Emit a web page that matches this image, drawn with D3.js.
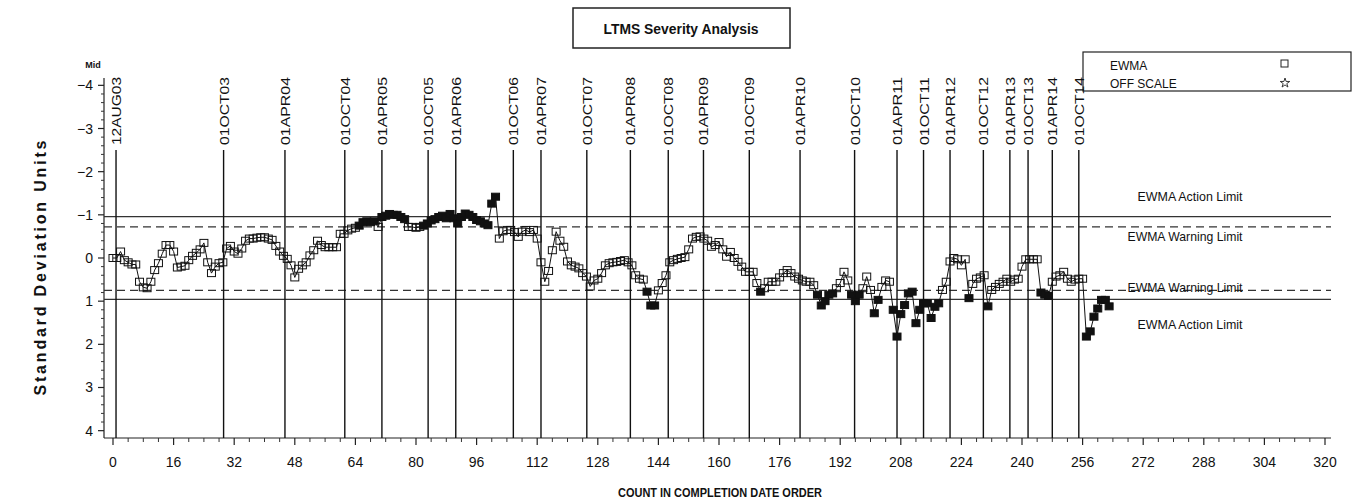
<!DOCTYPE html>
<html>
<head>
<meta charset="utf-8">
<script src="https://cdn.jsdelivr.net/npm/d3@7"></script>
<style>
  html, body { margin: 0; padding: 0; background: #fff; }
  svg { display: block; }
  text { font-family: "Liberation Sans Narrow", "Liberation Sans", Arial, sans-serif; fill: #111; }
</style>
</head>
<body>
<svg id="chart" width="1353" height="502"></svg>
<script>
// ---------- data ----------
const title = "LTMS Severity Analysis";
const xTitle = "COUNT IN COMPLETION DATE ORDER";
const yTitle = "Standard Deviation Units";
const xTicks = [0,16,32,48,64,80,96,112,128,144,160,176,192,208,224,240,256,272,288,304,320];
const yTicks = [-4,-3,-2,-1,0,1,2,3,4];

// EWMA values, one per test (count 0..263)
const ewma = [
  0.00, 0.00,-0.15, 0.05, 0.10, 0.15, 0.15, 0.55, 0.68, 0.70,
  0.55, 0.28, 0.12,-0.10,-0.30,-0.30,-0.15, 0.22, 0.20, 0.18,
  0.05,-0.05,-0.12,-0.20,-0.35, 0.10, 0.35, 0.20, 0.12, 0.10,
 -0.22,-0.28,-0.15,-0.10,-0.22,-0.40,-0.45,-0.45,-0.47,-0.48,
 -0.48,-0.45,-0.42,-0.28,-0.15,-0.05, 0.02, 0.17, 0.45, 0.25,
  0.17, 0.10,-0.06,-0.18,-0.40,-0.30,-0.25,-0.25,-0.25,-0.25,
 -0.56,-0.56,-0.64,-0.68,-0.70,-0.75,-0.83,-0.85,-0.83,-0.85,
 -0.72,-0.95,-0.98,-1.02,-1.00,-1.00,-0.95,-0.90,-0.72,-0.72,
 -0.70,-0.72,-0.75,-0.80,-0.87,-0.90,-0.95,-0.98,-0.92,-1.02,
 -0.92,-0.80,-0.95,-1.03,-1.00,-0.95,-0.88,-0.85,-0.80,-0.76,
 -1.26,-1.42,-0.45,-0.62,-0.65,-0.65,-0.60,-0.49,-0.61,-0.65,
 -0.60,-0.65,-0.45, 0.10, 0.55, 0.30,-0.18,-0.61,-0.40,-0.26,
  0.08, 0.17, 0.20, 0.24, 0.35, 0.43, 0.66, 0.52, 0.48, 0.35,
  0.17, 0.12, 0.10, 0.09, 0.07, 0.05, 0.10, 0.17, 0.40, 0.48,
  0.50, 0.78, 1.10, 1.10, 0.75, 0.58, 0.40, 0.10, 0.05, 0.02,
  0.00,-0.02,-0.20,-0.45,-0.49,-0.50,-0.45,-0.40,-0.26,-0.30,
 -0.37,-0.20,-0.03,-0.14, 0.00, 0.09, 0.20, 0.32, 0.32, 0.32,
  0.58, 0.78, 0.70, 0.55, 0.55, 0.55, 0.45, 0.35, 0.28, 0.35,
  0.43, 0.48, 0.52, 0.55, 0.55, 0.63, 0.85, 1.10, 1.00, 0.85,
  0.82, 0.70, 0.58, 0.32, 0.52, 0.85, 1.00, 0.85, 0.70, 0.43,
  0.74, 1.28, 0.97, 0.67, 0.52, 0.55, 1.20, 1.82, 1.30, 1.09,
  0.82, 0.78, 1.51, 1.20, 1.05, 1.05, 1.39, 1.13, 1.05, 0.74,
  0.55, 0.08, 0.00, 0.03, 0.17, 0.03, 0.93, 0.60, 0.48, 0.45,
  0.40, 1.12, 0.74, 0.67, 0.60, 0.55, 0.48, 0.55, 0.50, 0.48,
  0.20, 0.03, 0.03, 0.03, 0.03, 0.80, 0.85, 0.88, 0.55, 0.43,
  0.40, 0.32, 0.48, 0.55, 0.50, 0.48, 0.48, 1.82, 1.70, 1.36,
  1.17, 0.97, 0.97, 1.12
];

// date reference lines (count position)
const dateLabels = ["12AUG03","01OCT03","01APR04","01OCT04","01APR05","01OCT05","01APR06","01OCT06",
  "01APR07","01OCT07","01APR08","01OCT08","01APR09","01OCT09","01APR10","01OCT10","01APR11",
  "01OCT11","01APR12","01OCT12","01APR13","01OCT13","01APR14","01OCT14"];
const datePos = [0.8,29.2,45.4,61.2,71.0,83.2,90.5,105.7,113.0,125.1,136.6,146.6,155.9,168.0,
  181.4,195.8,207.0,214.0,221.0,229.8,236.8,241.6,248.0,255.0];

// limits
const limitNames = ["EWMA Action Limit","EWMA Warning Limit","EWMA Warning Limit","EWMA Action Limit"];
const limitValues = [-0.96,-0.72,0.75,0.96];
const limitDashed = [false,true,true,false];

const legendNames = ["EWMA","OFF SCALE"];

// ---------- drawing ----------
const svg = d3.select("#chart");
const x = d3.scaleLinear().domain([0,320]).range([113,1325]);
const y = d3.scaleLinear().domain([-4.17,4.17]).range([78,438]);
const axisLeft = 104, axisRight = 1331, axisTop = 78, axisBottom = 438;

// title box
svg.append("rect").attr("x",573).attr("y",8).attr("width",217).attr("height",40)
  .attr("fill","none").attr("stroke","#222").attr("stroke-width",1.5);
svg.append("text").attr("x",681).attr("y",34).attr("text-anchor","middle")
  .attr("font-size",14).attr("font-weight","bold").attr("textLength",155).attr("lengthAdjust","spacingAndGlyphs")
  .text(title);

// legend box
svg.append("rect").attr("x",1083).attr("y",52).attr("width",268).attr("height",39)
  .attr("fill","none").attr("stroke","#222").attr("stroke-width",1.2);
svg.append("text").attr("x",1110).attr("y",70).attr("font-size",12).text(legendNames[0]);
svg.append("text").attr("x",1110).attr("y",88).attr("font-size",12).text(legendNames[1]);
svg.append("rect").attr("x",1281).attr("y",60).attr("width",7).attr("height",7)
  .attr("fill","none").attr("stroke","#222").attr("stroke-width",1);
svg.append("path").attr("d",d3.symbol(d3.symbolStar,28)()).attr("transform","translate(1285,83)")
  .attr("fill","none").attr("stroke","#222").attr("stroke-width",0.9);

// axes lines
svg.append("line").attr("x1",axisLeft).attr("x2",axisLeft).attr("y1",axisTop).attr("y2",axisBottom)
  .attr("stroke","#222").attr("stroke-width",1.2);
svg.append("line").attr("x1",axisLeft).attr("x2",axisRight).attr("y1",axisBottom).attr("y2",axisBottom)
  .attr("stroke","#222").attr("stroke-width",1.2);

// y ticks
const yMinor = d3.range(-4,4.001,0.2).filter(v => Math.abs(v - Math.round(v)) > 0.01);
svg.append("g").selectAll("line.ymin").data(yMinor).join("line")
  .attr("x1",axisLeft-3).attr("x2",axisLeft).attr("y1",d=>y(d)).attr("y2",d=>y(d))
  .attr("stroke","#333").attr("stroke-width",1);
svg.append("g").selectAll("line.ymaj").data(yTicks).join("line")
  .attr("x1",axisLeft-6).attr("x2",axisLeft).attr("y1",d=>y(d)).attr("y2",d=>y(d))
  .attr("stroke","#222").attr("stroke-width",1.2);
svg.append("g").selectAll("text").data(yTicks).join("text")
  .attr("x",93).attr("y",d=>y(d)+5).attr("text-anchor","end").attr("font-size",14)
  .text(d => d < 0 ? "\u2212" + Math.abs(d) : d);
svg.append("text").attr("x",93).attr("y",68).attr("text-anchor","middle").attr("font-size",9)
  .attr("font-weight","bold").text("Mid");

// x ticks
const xMinor = d3.range(0,321,4).filter(v => v % 16 !== 0);
svg.append("g").selectAll("line").data(xMinor).join("line")
  .attr("x1",d=>x(d)).attr("x2",d=>x(d)).attr("y1",axisBottom).attr("y2",axisBottom+4)
  .attr("stroke","#333").attr("stroke-width",1);
svg.append("g").selectAll("line").data(xTicks).join("line")
  .attr("x1",d=>x(d)).attr("x2",d=>x(d)).attr("y1",axisBottom).attr("y2",axisBottom+7)
  .attr("stroke","#222").attr("stroke-width",1.2);
svg.append("g").selectAll("text").data(xTicks).join("text")
  .attr("x",d=>x(d)).attr("y",467).attr("text-anchor","middle").attr("font-size",14)
  .text(d=>d);
svg.append("text").attr("x",720).attr("y",497).attr("text-anchor","middle").attr("font-size",12)
  .attr("font-weight","bold").attr("textLength",204).attr("lengthAdjust","spacingAndGlyphs").text(xTitle);

// y title
svg.append("text").attr("transform","translate(46,268) rotate(-90)").attr("text-anchor","middle")
  .attr("font-size",16).attr("font-weight","bold").attr("textLength",255).attr("lengthAdjust","spacing")
  .text(yTitle);

// limit lines
svg.append("g").selectAll("line").data(limitValues).join("line")
  .attr("x1",axisLeft).attr("x2",axisRight).attr("y1",d=>y(d)).attr("y2",d=>y(d))
  .attr("stroke","#333").attr("stroke-width",1.3)
  .attr("stroke-dasharray",(d,i)=>limitDashed[i] ? "8,5" : null);
const limitLabelY = [201, 241, 292, 329];
const limitLabelX = [1190, 1185, 1185, 1190];
svg.append("g").selectAll("text").data(limitNames).join("text")
  .attr("x",(d,i)=>limitLabelX[i]).attr("y",(d,i)=>limitLabelY[i]).attr("text-anchor","middle")
  .attr("font-size",13).attr("textLength",(d,i)=> i===0||i===3 ? 105 : 115).attr("lengthAdjust","spacingAndGlyphs")
  .text(d=>d);

// date lines
svg.append("g").selectAll("line").data(datePos).join("line")
  .attr("x1",d=>x(d)).attr("x2",d=>x(d)).attr("y1",150).attr("y2",axisBottom)
  .attr("stroke","#111").attr("stroke-width",1.4);
svg.append("g").selectAll("text").data(dateLabels).join("text")
  .attr("transform",(d,i)=>`translate(${x(datePos[i])+5},145) rotate(-90)`)
  .attr("font-family","DejaVu Sans, sans-serif").attr("font-size",12)
  .attr("textLength",68).attr("lengthAdjust","spacingAndGlyphs")
  .text(d=>d);

// EWMA series
const pts = ewma.map((v,i)=>({c:i, v:v}));
const line = d3.line().x(d=>x(d.c)).y(d=>y(d.v));
svg.append("path").datum(pts).attr("d",line).attr("fill","none").attr("stroke","#111").attr("stroke-width",1);
const warnLo = limitValues[1], warnHi = limitValues[2];
svg.append("g").selectAll("rect").data(pts).join("rect")
  .attr("x",d=>x(d.c)-4).attr("y",d=>y(d.v)-3.5).attr("width",8).attr("height",7)
  .attr("fill",d=> (d.v < warnLo || d.v > warnHi) ? "#111" : "none")
  .attr("stroke","#111").attr("stroke-width",1);
</script>
</body>
</html>
